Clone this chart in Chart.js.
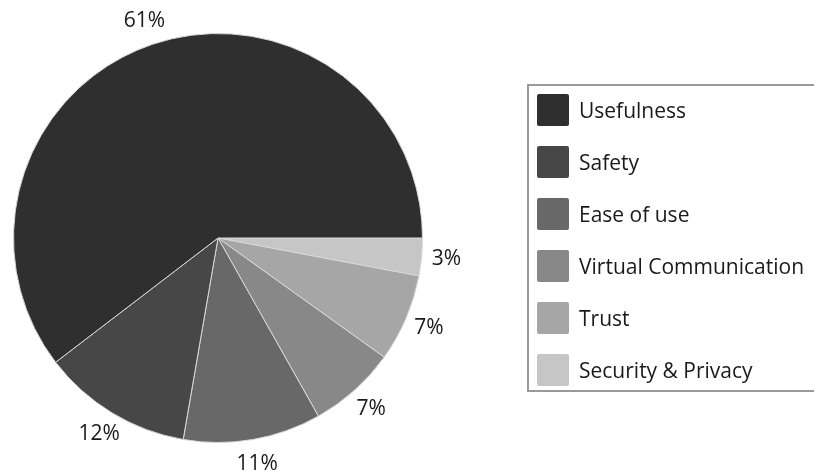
<!DOCTYPE html>
<html>
<head>
<meta charset="utf-8">
<script src="https://cdn.jsdelivr.net/npm/chart.js@4"></script>
<style>
  html, body { margin:0; padding:0; background:#fff; }
  body { width:814px; height:476px; position:relative; overflow:hidden; font-family:"Open Sans","Noto Sans",sans-serif; }
  #pie { position:absolute; left:0; top:0; }
  .legend {
    position:absolute; left:527px; top:84px; width:300px; height:308px;
    border:2px solid #9a9a9a; box-sizing:border-box; margin:0; padding:0 0 0 8px; list-style:none;
  }
  .legend li { display:flex; align-items:center; height:52px; font-size:21px; color:#1a1a1a; position:relative; top:-2px; }
  .legend .swatch { width:32px; height:32px; border-radius:2px; margin-right:10px; flex:none; }
</style>
</head>
<body>
<canvas id="pie" width="814" height="476"></canvas>
<ul class="legend" id="legend"></ul>
<script>
// Shares, in legend order
const LABELS = ['Usefulness','Safety','Ease of use','Virtual Communication','Trust','Security & Privacy'];
const VALUES = [61, 12, 11, 7, 7, 3];
const COLORS = ['#2f2f2f','#474747','#686868','#888888','#a6a6a6','#c6c6c6'];

// slices run counter-clockwise from 3 o'clock, so feed them reversed and draw clockwise from east
const rev = a => a.slice().reverse();

// percentage text just outside each slice
const outsideLabels = {
  id:'outsideLabels',
  afterDatasetsDraw(chart){
    const ctx = chart.ctx;
    const meta = chart.getDatasetMeta(0);
    const data = chart.data.datasets[0].data;
    ctx.save();
    ctx.font = '21px "Open Sans","Noto Sans",sans-serif';
    ctx.fillStyle = '#1a1a1a';
    ctx.textAlign = 'center';
    ctx.textBaseline = 'middle';
    meta.data.forEach((arc, i) => {
      const p = arc.getProps(['x','y','startAngle','endAngle','outerRadius'], true);
      const a = (p.startAngle + p.endAngle) / 2;
      const r = p.outerRadius + 25;
      ctx.fillText(data[i] + '%', p.x + Math.cos(a)*r, p.y + Math.sin(a)*r);
    });
    ctx.restore();
  }
};

new Chart(document.getElementById('pie'), {
  type:'pie',
  data:{
    labels:rev(LABELS),
    datasets:[{
      data:rev(VALUES),
      backgroundColor:rev(COLORS),
      borderColor:'#d8d8d8', borderWidth:1
    }]
  },
  options:{
    responsive:false, animation:false,
    rotation:90,
    layout:{ padding:{ left:13, top:33, bottom:33, right:391 } },
    plugins:{ legend:{display:false}, tooltip:{enabled:false} }
  },
  plugins:[outsideLabels]
});

document.getElementById('legend').innerHTML = LABELS.map((l, i) => `
  <li><span class="swatch" style="background:${COLORS[i]}"></span><span>${l}</span></li>
`).join('');
</script>
</body>
</html>
